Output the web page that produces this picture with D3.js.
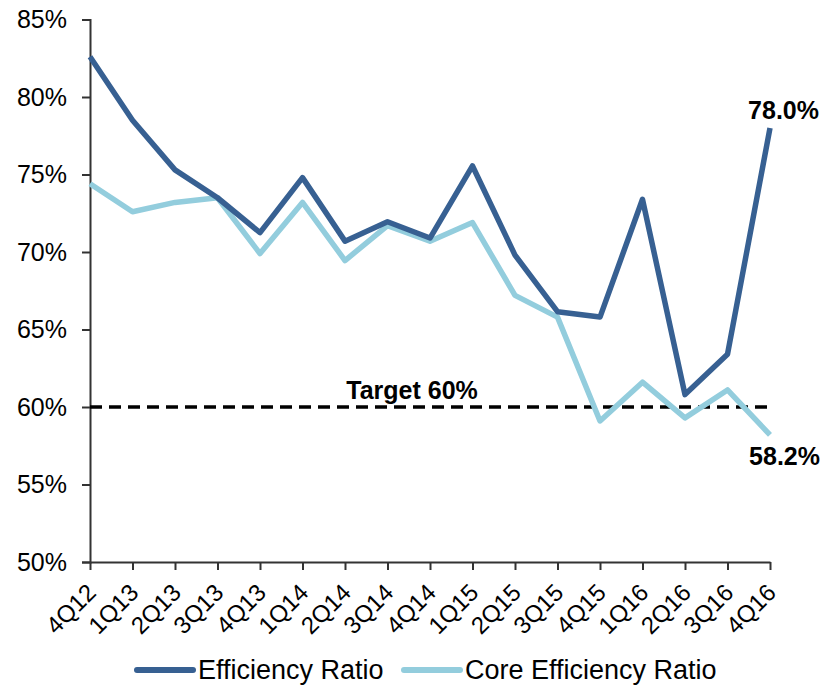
<!DOCTYPE html>
<html>
<head>
<meta charset="utf-8">
<script src="https://cdn.jsdelivr.net/npm/d3@7"></script>
<style>
  html, body { margin: 0; padding: 0; background: #fff; }
  svg { display: block; font-family: Arial, "Liberation Sans", sans-serif; }
</style>
</head>
<body>
<svg id="chart" width="823" height="687"></svg>
<script>
// Quarterly efficiency ratios (%)
const quarters = ["4Q12","1Q13","2Q13","3Q13","4Q13","1Q14","2Q14","3Q14","4Q14",
                  "1Q15","2Q15","3Q15","4Q15","1Q16","2Q16","3Q16","4Q16"];
const efficiencyRatio = [82.6, 78.5, 75.3, 73.5, 71.25, 74.8, 70.7, 71.95, 70.9,
                         75.55, 69.8, 66.15, 65.8, 73.4, 60.8, 63.4, 78.0];
const coreEfficiencyRatio = [74.4, 72.6, 73.2, 73.5, 69.9, 73.2, 69.45, 71.7, 70.7,
                             71.9, 67.2, 65.8, 59.1, 61.6, 59.3, 61.1, 58.2];
const yTicks = [50, 55, 60, 65, 70, 75, 80, 85];
const targetValue = 60;
const seriesNames = ["Efficiency Ratio", "Core Efficiency Ratio"];
const seriesColors = ["#376092", "#93CDDD"];

const svg = d3.select("#chart");
const x = d3.scalePoint().domain(quarters).range([90, 770]);
const y = d3.scaleLinear().domain([50, 85]).range([562, 19.5]);

// Y axis
const yAxis = svg.append("g")
  .attr("transform", "translate(90,0)")
  .call(d3.axisLeft(y).tickValues(yTicks).tickSize(8).tickPadding(15)
        .tickFormat(d => d + "%"));
yAxis.selectAll("text").style("font-size", "25px").attr("fill", "#000");

// X axis
const xAxis = svg.append("g")
  .attr("transform", "translate(0,562)")
  .call(d3.axisBottom(x).tickSize(8).tickSizeOuter(0));
xAxis.selectAll("text")
  .style("font-size", "24px")
  .attr("fill", "#000")
  .attr("text-anchor", "end")
  .attr("y", 0).attr("dy", 0)
  .attr("transform", "translate(7,32) rotate(-45)");

[yAxis, xAxis].forEach(g => {
  g.select(".domain").attr("stroke", "#333").attr("stroke-width", 2);
  g.selectAll(".tick line").attr("stroke", "#333").attr("stroke-width", 2);
});

// Target line
svg.append("line")
  .attr("x1", 90).attr("x2", 773)
  .attr("y1", y(targetValue)).attr("y2", y(targetValue))
  .attr("stroke", "#000").attr("stroke-width", 3.5)
  .attr("stroke-dasharray", "12,7");
svg.append("text")
  .attr("x", 412).attr("y", y(targetValue) - 8)
  .attr("text-anchor", "middle")
  .style("font-size", "25px").style("font-weight", "bold")
  .text("Target " + targetValue + "%");

// Series lines (core drawn first, underneath)
const line = d3.line().x((d, i) => x(quarters[i])).y(d => y(d));
[[coreEfficiencyRatio, 1], [efficiencyRatio, 0]].forEach(([vals, idx]) => {
  svg.append("path")
    .datum(vals)
    .attr("fill", "none")
    .attr("stroke", seriesColors[idx])
    .attr("stroke-width", 5.5)
    .attr("stroke-linejoin", "round")
    .attr("d", line);
});

// End value labels
const last = quarters.length - 1;
svg.append("text")
  .attr("x", 819).attr("y", y(efficiencyRatio[last]) - 9)
  .attr("text-anchor", "end")
  .style("font-size", "25px").style("font-weight", "bold")
  .text(efficiencyRatio[last].toFixed(1) + "%");
svg.append("text")
  .attr("x", 820).attr("y", y(coreEfficiencyRatio[last]) + 30)
  .attr("text-anchor", "end")
  .style("font-size", "25px").style("font-weight", "bold")
  .text(coreEfficiencyRatio[last].toFixed(1) + "%");

// Legend
const legendX = [137, 404];
seriesNames.forEach((name, i) => {
  const g = svg.append("g").attr("transform", `translate(${legendX[i]},670)`);
  g.append("line").attr("x1", 0).attr("x2", 56).attr("y1", 0).attr("y2", 0)
    .attr("stroke", seriesColors[i]).attr("stroke-width", 6)
    .attr("stroke-linecap", "round");
  g.append("text").attr("x", 61).attr("y", 9)
    .style("font-size", "27px").text(name);
});
</script>
</body>
</html>
